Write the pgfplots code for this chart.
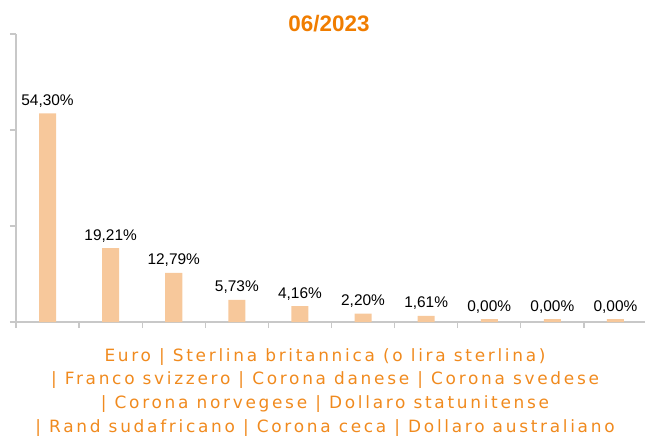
\documentclass[border=0pt]{standalone}
\usepackage{pgfplots}
\pgfplotsset{compat=1.18}
\usepackage{pgfplotstable}
\usepackage{fontspec}
\setmainfont{Liberation Sans}
\newfontfamily\labfont[LetterSpace=16]{DejaVu Sans}
\definecolor{barc}{HTML}{F7C89B}
\definecolor{titc}{HTML}{F07D00}
\definecolor{labc}{HTML}{F08A1E}
\definecolor{axc}{HTML}{C8C8C8}

\pgfplotstableread{
x y lab
0 54.30 54,30
1 19.21 19,21
2 12.79 12,79
3 5.73 5,73
4 4.16 4,16
5 2.20 2,20
6 1.61 1,61
7 0.75 0,00
8 0.75 0,00
9 0.75 0,00
}\data

\begin{document}
\begin{tikzpicture}
\useasboundingbox (-16bp,-114bp) rectangle (629bp,322bp);
\begin{axis}[
  at={(0,0)}, anchor=south west,
  scale only axis, width=631bp, height=288bp,
  xmin=-0.5, xmax=9.5, ymin=0, ymax=75,
  axis x line=bottom, axis y line=left,
  axis line style={axc, line width=1.2bp, -},
  xtick={-0.5,0.5,1.5,2.5,3.5,4.5,5.5,6.5,7.5,8.5},
  xticklabels={},
  ytick={0,25,50,75}, yticklabels={},
  tick align=outside, major tick length=6bp,
  tick style={axc, line width=1.2bp},
  clip=false,
]
\addplot[ybar, bar width=17bp, bar shift=0pt, fill=barc, draw=none,
  point meta=explicit symbolic,
  nodes near coords={\pgfplotspointmeta\%},
  every node near coord/.append style={anchor=base, inner sep=0pt, yshift=8bp,
    font=\fontsize{15.5}{16}\selectfont, text=black}]
  table[x=x, y=y, meta=lab] {\data};
\end{axis}
\node[anchor=base, text=titc, font=\fontsize{22.5}{24}\selectfont\bfseries, inner sep=0pt] at (313bp,290bp) {06/2023};
\begin{scope}[every node/.style={anchor=base, text=labc, inner sep=0pt, font=\labfont\fontsize{17}{18}\selectfont}]
\node at (309bp,-39bp) {Euro | Sterlina britannica (o lira sterlina)};
\node at (309bp,-62.7bp) {| Franco svizzero | Corona danese | Corona svedese};
\node at (309bp,-86.4bp) {| Corona norvegese | Dollaro statunitense};
\node at (309bp,-110bp) {| Rand sudafricano | Corona ceca | Dollaro australiano};
\end{scope}
\end{tikzpicture}
\end{document}
